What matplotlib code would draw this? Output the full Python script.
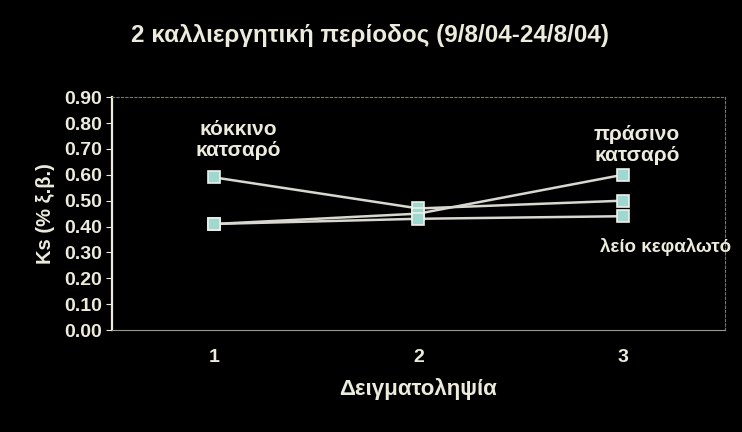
import numpy as np
import matplotlib.pyplot as plt

# sampling points and Ks values per lettuce variety
samples = [1, 2, 3]
kokkino = [0.59, 0.47, 0.50]    # κόκκινο κατσαρό
prasino = [0.41, 0.45, 0.60]    # πράσινο κατσαρό
leio = [0.41, 0.43, 0.44]       # λείο κεφαλωτό
yticks = np.arange(0, 0.91, 0.10)

fg = '#ecebdc'
plt.rcParams['font.family'] = ['Liberation Sans', 'DejaVu Sans']

fig = plt.figure(figsize=(7.42, 4.32), dpi=100, facecolor='black')
ax = fig.add_axes([0.151, 0.236, 0.826, 0.539], facecolor='black')

for vals in (kokkino, prasino, leio):
    ax.plot(samples, vals, color='#d8d8d0', lw=1.8, marker='s', ms=8,
            mfc='#9fd8d0', mec='#f0f0e8', mew=1.2)

ax.set_xlim(0.5, 3.5)
ax.set_ylim(0, 0.9)
ax.set_xticks(samples)
ax.set_yticks(yticks)
ax.set_yticklabels(['%.2f' % v for v in yticks])
ax.tick_params(colors=fg, labelsize=14, length=4)
ax.tick_params(axis='x', length=0, pad=14)
for lab in ax.get_xticklabels() + ax.get_yticklabels():
    lab.set_fontweight('bold')
for side in ('top', 'right'):
    ax.spines[side].set_color('#777770')
    ax.spines[side].set_linestyle((0, (2, 2)))
ax.spines['left'].set_color(fg)
ax.spines['left'].set_linewidth(1.6)
ax.spines['bottom'].set_color('#999990')

ax.set_ylabel('Ks (% ξ.β.)', color=fg, fontsize=14.5, fontweight='bold', labelpad=6)
ax.set_xlabel('Δειγματοληψία', color=fg, fontsize=16, fontweight='bold', labelpad=8)
fig.suptitle('2 καλλιεργητική περίοδος (9/8/04-24/8/04)', color=fg,
             fontsize=17.5, fontweight='bold', x=0.498, y=0.945)

ax.text(1.12, 0.735, 'κόκκινο\nκατσαρό', color=fg, fontsize=15,
        fontweight='bold', ha='center', va='center', linespacing=1.15)
ax.text(3.07, 0.715, 'πράσινο\nκατσαρό', color=fg, fontsize=15,
        fontweight='bold', ha='center', va='center', linespacing=1.15)
ax.text(3.21, 0.32, 'λείο κεφαλωτό', color=fg, fontsize=13.5,
        fontweight='bold', ha='center', va='center', clip_on=False)

fig.savefig('out.png', dpi=100, facecolor='black')
